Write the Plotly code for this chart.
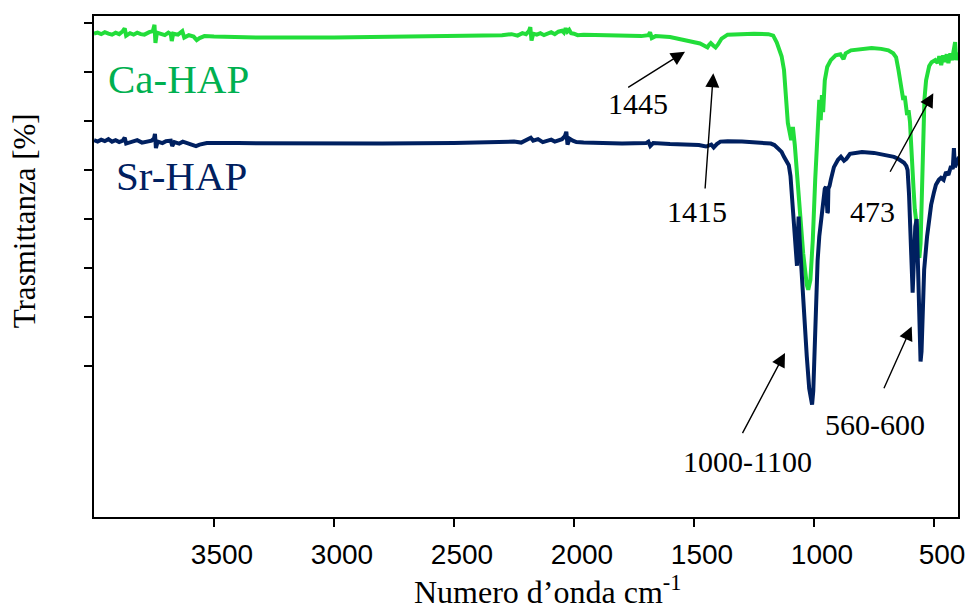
import plotly.graph_objects as go

# ---- data ----
wn_ca = [4000, 3985, 3970, 3955, 3940, 3925, 3910, 3895, 3880, 3872, 3866, 3850, 3835, 3820, 3805, 3790,
         3770, 3755, 3748, 3744, 3738, 3720, 3705, 3690, 3680, 3676, 3670, 3650, 3632, 3624, 3605, 3585,
         3572, 3560, 3540, 3500, 3300, 3000, 2700, 2450, 2300, 2260, 2235, 2215, 2200, 2188, 2182, 2177,
         2170, 2155, 2140, 2125, 2110, 2095, 2080, 2065, 2050, 2042, 2035, 2028, 2020, 2012, 2000, 1985,
         1960, 1900, 1850, 1800, 1760, 1720, 1690, 1683, 1676, 1660, 1600, 1550, 1500, 1475, 1455,
         1444, 1436, 1430, 1420, 1410, 1400, 1385, 1360, 1300, 1250, 1190, 1170, 1155, 1145, 1135, 1125,
         1115, 1109, 1095, 1088, 1080, 1070, 1060, 1045, 1030, 1024, 1015, 1005, 995, 985, 978, 972,
         967, 962, 955, 945, 930, 910, 890, 877, 868, 846, 800, 760, 720, 690, 670, 658,
         648, 637, 628, 622, 617, 612, 606, 600, 596, 590, 585, 580, 575, 568, 561, 556,
         550, 545, 540, 533, 520, 510, 495, 485, 478, 470, 462, 455, 447, 440, 432, 425,
         418, 412, 408, 403, 398]
t_ca = [97.8, 98.0, 97.7, 98.1, 97.8, 97.6, 98.0, 97.7, 98.3, 98.9, 97.4, 97.9, 97.6, 98.0, 97.7, 97.6,
        98.1, 98.3, 99.6, 95.9, 98.0, 97.8, 97.5, 98.0, 97.7, 96.3, 97.8, 97.6, 98.3, 97.0, 97.5, 97.2,
        96.5, 96.9, 97.3, 97.2, 97.0, 97.0, 97.2, 97.4, 97.5, 97.7, 97.4, 97.9, 97.7, 98.3, 99.1, 96.4,
        97.8, 97.6, 97.9, 97.5, 97.8, 98.1, 97.7, 98.2, 98.4, 98.0, 98.9, 98.2, 98.6, 97.9, 97.8, 97.5,
        97.6, 97.5, 97.4, 97.3, 97.2, 97.3, 97.5, 98.1, 96.9, 97.3, 97.1, 96.6, 96.2, 95.8, 95.3,
        95.0, 95.6, 95.9, 95.4, 95.0, 95.6, 96.8, 97.6, 97.8, 97.8, 97.7, 97.4, 96.0, 94.8, 93.2, 90.4,
        84.3, 79.6, 76.1, 78.8, 75.1, 69.0, 60.9, 53.0, 46.6, 45.6, 47.6, 55.8, 68.0, 78.2, 84.3, 80.2,
        85.3, 81.8, 88.3, 91.0, 92.4, 93.4, 93.6, 92.6, 93.8, 94.4, 94.7, 94.9, 94.7, 94.4, 93.8, 93.0,
        90.4, 87.3, 84.3, 85.1, 83.3, 81.2, 82.2, 79.8, 76.0, 72.0, 66.0, 62.0, 60.0, 55.0, 52.1, 55.0,
        68.0, 78.0, 84.3, 88.3, 91.2, 92.0, 92.4, 91.8, 93.2, 91.4, 93.4, 92.0, 93.6, 91.8, 93.8, 92.4,
        94.4, 96.1, 92.4, 93.8, 92.8]

wn_sr = [4000, 3985, 3970, 3955, 3940, 3925, 3910, 3895, 3880, 3872, 3866, 3840, 3820, 3800, 3780, 3760,
         3750, 3746, 3742, 3735, 3715, 3700, 3680, 3674, 3665, 3645, 3630, 3600, 3575, 3560, 3530, 3400,
         3100, 2800, 2500, 2300, 2250, 2220, 2200, 2190, 2180, 2170, 2150, 2130, 2110, 2095, 2080, 2065,
         2050, 2038, 2032, 2027, 2018, 2005, 1990, 1960, 1900, 1850, 1800, 1700, 1690, 1682, 1670,
         1600, 1530, 1480, 1450, 1440, 1428, 1418, 1405, 1390, 1360, 1300, 1220, 1180, 1165, 1148, 1135,
         1125, 1113, 1105, 1098, 1092, 1086, 1080, 1075, 1071, 1067, 1064, 1060, 1050, 1040, 1030, 1020,
         1012, 1008, 1003, 997, 992, 985, 978, 970, 962, 955, 950, 946, 944, 942, 940, 935,
         930, 917, 900, 888, 875, 865, 850, 833, 800, 750, 700, 667, 650, 635, 625, 615,
         610, 604, 598, 593, 589, 585, 578, 572, 567, 561, 556, 552, 547, 541, 529, 512,
         500, 492, 480, 471, 460, 450, 440, 429, 422, 417, 413, 408, 402, 396]
t_sr = [76.1, 75.8, 76.2, 75.9, 76.3, 75.8, 76.1, 75.7, 76.0, 76.6, 75.4, 75.8, 76.1, 75.6, 75.9, 76.0,
        76.4, 77.4, 74.5, 75.8, 75.5, 75.9, 76.0, 74.9, 75.7, 75.4, 75.8, 75.4, 74.9, 75.2, 75.5, 75.5,
        75.4, 75.4, 75.5, 75.6, 75.8, 75.6, 76.0, 76.2, 76.6, 76.0, 76.3, 75.7, 75.9, 76.2, 75.8, 76.1,
        76.3, 76.9, 77.8, 75.2, 76.4, 76.0, 75.7, 75.6, 75.5, 75.4, 75.4, 75.5, 75.8, 74.9, 75.5,
        75.3, 75.3, 75.1, 74.8, 75.0, 75.2, 74.6, 75.3, 75.8, 75.9, 75.8, 75.6, 75.4, 75.1, 74.4, 73.7,
        72.7, 71.7, 71.0, 68.8, 64.9, 60.0, 55.0, 51.5, 50.5, 57.0, 60.5, 56.0, 47.0, 39.5, 32.0, 25.5,
        22.4, 22.2, 25.0, 34.0, 43.0, 51.5, 56.5, 60.5, 63.7, 66.2, 66.6, 64.5, 61.3, 61.5, 66.2, 66.8,
        68.0, 70.6, 72.1, 72.7, 71.9, 72.3, 73.3, 73.5, 73.7, 73.5, 73.1, 72.7, 72.3, 71.7, 71.5, 70.8,
        70.0, 65.0, 57.0, 50.0, 45.0, 50.0, 58.5, 60.0, 52.0, 40.0, 31.0, 33.0, 43.0, 49.7, 56.4, 62.9,
        65.5, 67.0, 68.0, 68.4, 68.0, 69.6, 69.0, 70.8, 70.2, 74.5, 70.6, 71.0, 71.8, 72.7]

x_tickvals = [3500, 3000, 2500, 2000, 1500, 1000, 500]
y_tickvals = [30, 40, 50, 60, 70, 80, 90, 100]

line_colors = {"Ca-HAP": "#22DD3A", "Sr-HAP": "#002060"}
label_colors = {"Ca-HAP": "#00B050", "Sr-HAP": "#002060"}

band_labels = ["1445", "1415", "473", "1000-1100", "560-600"]

L, R, T, B = 94, 958, 16, 517.5
W, H = 971, 612


def px_x(px):
    return (px - L) / (R - L)


def px_y(py):
    return (B - py) / (B - T)


fig = go.Figure()
fig.add_trace(go.Scatter(x=wn_ca, y=t_ca, mode="lines", name="Ca-HAP",
                         line=dict(color=line_colors["Ca-HAP"], width=4)))
fig.add_trace(go.Scatter(x=wn_sr, y=t_sr, mode="lines", name="Sr-HAP",
                         line=dict(color=line_colors["Sr-HAP"], width=4)))

serif = "Liberation Serif, Times New Roman, serif"

fig.add_annotation(text="Ca-HAP", xref="paper", yref="paper", x=px_x(106), y=px_y(79),
                   xanchor="left", yanchor="middle", showarrow=False,
                   font=dict(family=serif, size=41, color=label_colors["Ca-HAP"]))
fig.add_annotation(text="Sr-HAP", xref="paper", yref="paper", x=px_x(114), y=px_y(176),
                   xanchor="left", yanchor="middle", showarrow=False,
                   font=dict(family=serif, size=41, color=label_colors["Sr-HAP"]))

text_pos = [(637.5, 104), (697, 211.5), (872.5, 211.5), (747.5, 462), (874.5, 425)]
arrows = [((685, 51.7), (626.7, 88.3)),
          ((713.3, 73.3), (705, 190)),
          ((933.3, 93.3), (889.3, 173.3)),
          ((785, 353.3), (741.7, 435)),
          ((911.7, 326.7), (883.3, 390))]
for lab, (tx, ty), (tip, tail) in zip(band_labels, text_pos, arrows):
    fig.add_annotation(text=lab, xref="paper", yref="paper", x=px_x(tx), y=px_y(ty),
                       xanchor="center", yanchor="middle", showarrow=False,
                       font=dict(family=serif, size=30, color="black"))
    fig.add_annotation(text="", xref="paper", yref="paper", x=px_x(tip[0]), y=px_y(tip[1]),
                       ax=tail[0] - tip[0], ay=tail[1] - tip[1], showarrow=True,
                       arrowhead=2, arrowsize=2, arrowwidth=1.4, arrowcolor="black")

fig.add_annotation(text="Trasmittanza [%]", xref="paper", yref="paper", x=px_x(24), y=px_y(221.5),
                   textangle=-90, showarrow=False, xanchor="center", yanchor="middle",
                   font=dict(family=serif, size=31, color="black"))
fig.add_annotation(text="Numero d\u2019onda cm<sup>-1</sup>", xref="paper", yref="paper",
                   x=px_x(547), y=px_y(591), showarrow=False, xanchor="center", yanchor="middle",
                   font=dict(family=serif, size=32, color="black"))

fig.update_xaxes(range=[4000, 400], tickmode="array", tickvals=x_tickvals,
                 ticktext=[str(v) for v in x_tickvals], automargin=False,
                 showgrid=False, zeroline=False, showline=True, mirror=True,
                 linecolor="black", linewidth=2, ticks="outside", ticklen=8, tickwidth=1.5,
                 tickcolor="black", ticklabelstandoff=3, ticklabelshift=-8,
                 tickfont=dict(family="Liberation Sans, Arial, sans-serif", size=28, color="black"))
fig.update_yaxes(range=[-0.7, 101.4], tickmode="array", tickvals=y_tickvals, automargin=False,
                 showticklabels=False, showgrid=False, zeroline=False, showline=True, mirror=True,
                 linecolor="black", linewidth=2, ticks="outside", ticklen=8, tickwidth=1.5,
                 tickcolor="black")

fig.update_layout(width=W, height=H, autosize=False, showlegend=False,
                  margin=dict(l=L, r=W - R, t=T, b=H - B, autoexpand=False),
                  paper_bgcolor="white", plot_bgcolor="white")

fig.write_html("out.html")
